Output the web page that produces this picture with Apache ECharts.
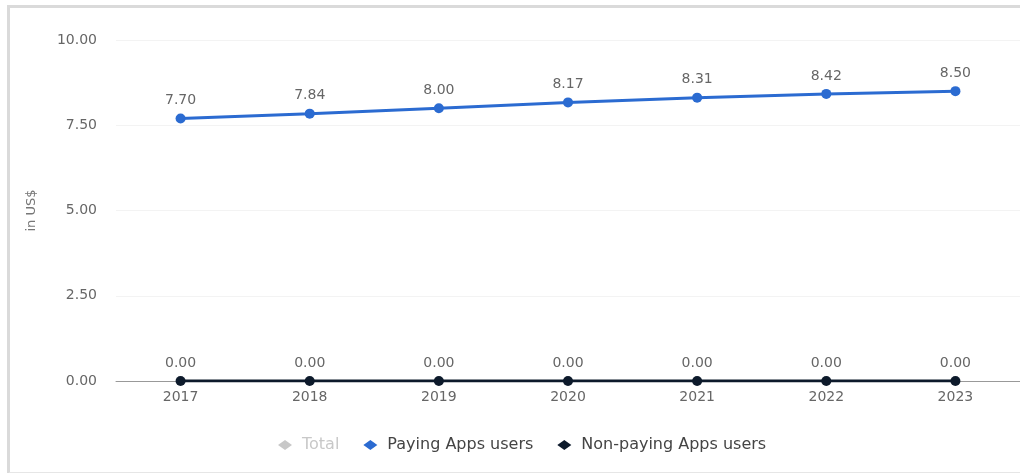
<!DOCTYPE html>
<html>
<head>
<meta charset="utf-8">
<script src="https://cdn.jsdelivr.net/npm/echarts@6/dist/echarts.min.js"></script>
<style>
html,body{margin:0;padding:0;background:#fff;}
#frame{position:absolute;left:7px;top:5px;width:1030px;height:464px;border-top:3px solid #dadada;border-left:3px solid #dadada;border-bottom:2px solid #e6e6e6;}
#chart{position:absolute;left:0;top:0;width:1020px;height:473px;}
</style>
</head>
<body>
<div id="frame"></div>
<div id="chart"></div>
<script>
const categories = ['2017','2018','2019','2020','2021','2022','2023'];
const totalValues = [7.70, 7.84, 8.00, 8.17, 8.31, 8.42, 8.50];
const payingValues = [7.70, 7.84, 8.00, 8.17, 8.31, 8.42, 8.50];
const nonPayingValues = [0, 0, 0, 0, 0, 0, 0];

const chart = echarts.init(document.getElementById('chart'));
const font = "'DejaVu Sans', sans-serif";
const lbl = {show:true, position:'top', distance:6, color:'#666', fontSize:14, fontFamily:font, formatter:p=>p.value.toFixed(2)};
chart.setOption({
  animation:false,
  textStyle:{fontFamily:font},
  legend:{
    top:432, left:273, itemGap:24, itemWidth:14, itemHeight:10,
    icon:'diamond',
    textStyle:{color:'#444', fontSize:16, fontFamily:font, padding:[0,0,0,5]},
    inactiveColor:'#c8c8c8',
    selected:{'Total':false},
    data:['Total','Paying Apps users','Non-paying Apps users']
  },
  grid:{left:116, top:40, width:907, height:341},
  xAxis:{
    type:'category', data:categories, boundaryGap:true,
    axisLine:{lineStyle:{color:'#999', width:1}},
    axisTick:{show:false},
    axisLabel:{color:'#666', fontSize:14, margin:9, fontFamily:font}
  },
  yAxis:{
    type:'value', min:0, max:10, interval:2.5,
    name:'in US$', nameLocation:'middle', nameGap:78, nameRotate:90,
    nameTextStyle:{color:'#777', fontSize:13, fontFamily:font},
    axisLine:{show:false}, axisTick:{show:false},
    axisLabel:{color:'#666', fontSize:14, margin:19, fontFamily:font, formatter:v=>v.toFixed(2)},
    splitLine:{lineStyle:{color:'#f3f3f3', width:1}}
  },
  series:[
    {name:'Total', type:'line', data:totalValues, symbol:'circle', symbolSize:9,
     itemStyle:{color:'#b0b0b0'}, lineStyle:{width:3}, label:lbl},
    {name:'Paying Apps users', type:'line', data:payingValues, symbol:'circle', symbolSize:10,
     itemStyle:{color:'#2b6bd1'}, lineStyle:{width:3, color:'#2b6bd1'}, label:lbl, z:3},
    {name:'Non-paying Apps users', type:'line', data:nonPayingValues, symbol:'circle', symbolSize:10,
     itemStyle:{color:'#0d1a2b'}, lineStyle:{width:3, color:'#0d1a2b'}, label:lbl, z:4}
  ]
});
</script>
</body>
</html>
